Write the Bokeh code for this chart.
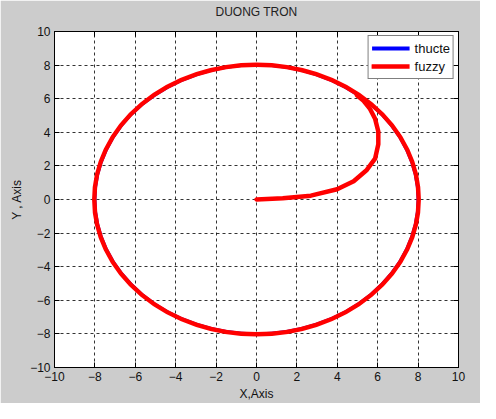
from bokeh.plotting import figure
from bokeh.models import LinearAxis, FixedTicker, Range1d, Legend, LegendItem, CustomLabelingPolicy
from bokeh.embed import file_html
from bokeh.resources import INLINE

# ---- data ----
x_ticks = [-10, -8, -6, -4, -2, 0, 2, 4, 6, 8, 10]
y_ticks = [-10, -8, -6, -4, -2, 0, 2, 4, 6, 8, 10]

# reference circle ("thucte")
ref_cx = [0.0]
ref_cy = [0.0]
ref_r = [8.0]

# fuzzy trajectory: transient part, then it settles on the circle
fz_x = [0.0, 1.3, 2.69, 3.99, 4.81, 5.46, 5.87, 6.03, 6.03, 5.87, 5.62, 5.30, 4.97]
fz_y = [0.0, 0.08, 0.23, 0.61, 1.09, 1.76, 2.43, 3.29, 4.05, 4.81, 5.39, 5.87, 6.20]
fz_cx = [0.0]
fz_cy = [0.0]
fz_r = [8.03]

FONT = "Liberation Sans"
BLUE = "#0000ff"
RED = "#ff0000"

p = figure(width=480, height=403,
           x_range=Range1d(-10, 10), y_range=Range1d(-10, 10),
           output_backend="svg", toolbar_location=None,
           min_border_left=54, min_border_right=20,
           min_border_top=29, min_border_bottom=32,
           x_axis_label="X,Axis", y_axis_label="Y , Axis")

p.background_fill_color = "white"
p.border_fill_color = "#cccccc"
p.outline_line_color = "black"
p.outline_line_width = 1

p.title.text = "DUONG TRON"
p.title.align = "center"
p.title.text_font = FONT
p.title.text_font_size = "12px"
p.title.text_font_style = "normal"
p.title.text_color = "#222222"
p.title.standoff = 4

for ax, tk in ((p.xaxis[0], x_ticks), (p.yaxis[0], y_ticks)):
    ax.ticker = FixedTicker(ticks=tk)
    ax.major_label_text_font = FONT
    ax.major_label_text_font_size = "12px"
    ax.major_label_text_color = "#111111"
    ax.axis_label_text_font = FONT
    ax.axis_label_text_font_size = "12px"
    ax.axis_label_text_font_style = "normal"
    ax.axis_label_text_color = "#111111"
    ax.major_tick_in = 5
    ax.major_tick_out = 0
    ax.minor_tick_line_color = None
    ax.axis_line_color = "black"
    ax.major_tick_line_color = "black"
    ax.major_label_standoff = 4
    ax.axis_label_standoff = 3

# ticks on top and right edges (box style), without labels
no_labels = CustomLabelingPolicy(code="return new Set()")
top_ax = LinearAxis(ticker=FixedTicker(ticks=x_ticks), major_label_policy=no_labels,
                    major_tick_in=5, major_tick_out=0, minor_tick_line_color=None,
                    axis_line_color="black", major_label_standoff=0)
right_ax = LinearAxis(ticker=FixedTicker(ticks=y_ticks), major_label_policy=no_labels,
                      major_tick_in=5, major_tick_out=0, minor_tick_line_color=None,
                      axis_line_color="black", major_label_standoff=0)
p.add_layout(top_ax, "above")
p.add_layout(right_ax, "right")

p.xgrid.ticker = FixedTicker(ticks=x_ticks)
p.ygrid.ticker = FixedTicker(ticks=y_ticks)
for g in (p.xgrid[0], p.ygrid[0]):
    g.grid_line_color = "black"
    g.grid_line_alpha = 0.8
    g.grid_line_dash = "3 3"
    g.grid_line_width = 1

# reference circle
p.ellipse(x=ref_cx, y=ref_cy, width=[2 * r for r in ref_r], height=[2 * r for r in ref_r],
          fill_color=None, line_color=BLUE, line_width=3)
# fuzzy
p.ellipse(x=fz_cx, y=fz_cy, width=[2 * r for r in fz_r], height=[2 * r for r in fz_r],
          fill_color=None, line_color=RED, line_width=4.5)
fz_line = p.line(fz_x, fz_y, line_color=RED, line_width=4.5, line_join="round", line_cap="round")

# legend proxy for the blue reference (a single point: draws nothing on the plot)
lg_blue = p.line(x=ref_cx, y=ref_cy, line_color=BLUE, line_width=4)
legend = Legend(items=[LegendItem(label="thucte", renderers=[lg_blue]),
                       LegendItem(label="fuzzy", renderers=[fz_line])],
                location="top_right", margin=4, padding=3, spacing=0,
                glyph_width=38, glyph_height=18, label_standoff=5,
                label_text_font=FONT, label_text_font_size="13px",
                label_text_color="#111111",
                label_height=18,
                border_line_color="black", border_line_width=1,
                background_fill_color="white", background_fill_alpha=1)
p.add_layout(legend, "center")

open("out.html", "w").write(file_html(p, INLINE))
